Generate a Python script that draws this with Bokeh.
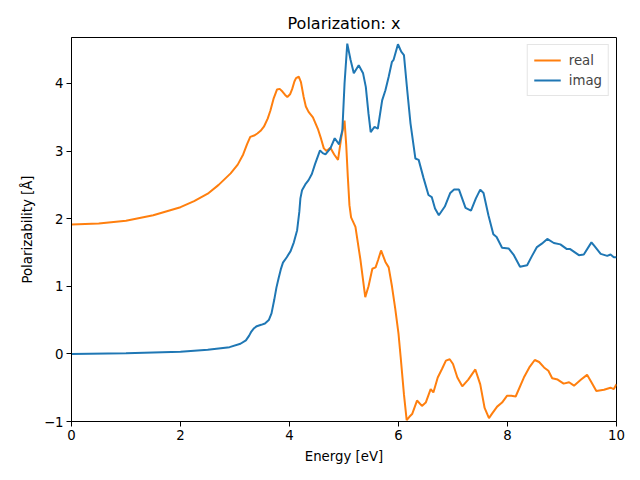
from bokeh.plotting import figure
from bokeh.embed import file_html
from bokeh.resources import INLINE
from bokeh.models import Range1d, CustomJSTickFormatter, FixedTicker, Legend, LegendItem

real_x = [0, 0.5, 1.0, 1.5, 2.0, 2.25, 2.5, 2.7, 2.92, 3.05, 3.15, 3.22, 3.28, 3.35, 3.41, 3.47, 3.53, 3.6, 3.65, 3.71, 3.77, 3.82, 3.87, 3.92, 3.96, 4.01, 4.05, 4.09, 4.12, 4.17, 4.21, 4.26, 4.3, 4.35, 4.43, 4.52, 4.58, 4.63, 4.68, 4.75, 4.82, 4.89, 4.95, 5.01, 5.04, 5.07, 5.10, 5.13, 5.21, 5.3, 5.39, 5.45, 5.52, 5.58, 5.63, 5.68, 5.76, 5.82, 5.88, 5.94, 6.0, 6.04, 6.1, 6.15, 6.2, 6.25, 6.34, 6.43, 6.5, 6.59, 6.64, 6.72, 6.80, 6.87, 6.94, 7.0, 7.08, 7.17, 7.28, 7.41, 7.5, 7.58, 7.66, 7.72, 7.81, 7.9, 7.99, 8.07, 8.15, 8.30, 8.4, 8.50, 8.58, 8.67, 8.75, 8.82, 8.92, 9.03, 9.13, 9.22, 9.35, 9.46, 9.54, 9.63, 9.77, 9.89, 9.95, 10.0]
real_y = [1.915, 1.93, 1.97, 2.05, 2.17, 2.26, 2.37, 2.5, 2.67, 2.8, 2.95, 3.1, 3.21, 3.23, 3.26, 3.3, 3.36, 3.48, 3.6, 3.78, 3.91, 3.92, 3.88, 3.83, 3.80, 3.84, 3.92, 4.03, 4.08, 4.10, 4.02, 3.80, 3.66, 3.58, 3.5, 3.33, 3.18, 3.04, 3.0, 3.05, 2.95, 2.87, 3.2, 3.45, 3.1, 2.62, 2.2, 2.02, 1.88, 1.4, 0.84, 1.0, 1.26, 1.28, 1.4, 1.53, 1.36, 1.28, 1.0, 0.67, 0.3, -0.05, -0.6, -0.98, -0.93, -0.89, -0.69, -0.77, -0.72, -0.52, -0.57, -0.35, -0.22, -0.1, -0.08, -0.15, -0.35, -0.48, -0.38, -0.23, -0.45, -0.8, -0.95, -0.88, -0.78, -0.72, -0.62, -0.62, -0.63, -0.35, -0.2, -0.09, -0.12, -0.2, -0.25, -0.36, -0.38, -0.44, -0.42, -0.47, -0.38, -0.31, -0.42, -0.55, -0.53, -0.50, -0.52, -0.45]

imag_x = [0, 1, 2, 2.5, 2.9, 3.1, 3.2, 3.26, 3.3, 3.35, 3.4, 3.48, 3.55, 3.62, 3.67, 3.72, 3.76, 3.8, 3.84, 3.88, 3.95, 4.02, 4.08, 4.14, 4.18, 4.2, 4.23, 4.3, 4.35, 4.41, 4.47, 4.56, 4.61, 4.66, 4.75, 4.83, 4.91, 4.97, 5.01, 5.06, 5.12, 5.18, 5.27, 5.35, 5.40, 5.45, 5.49, 5.56, 5.62, 5.70, 5.76, 5.82, 5.88, 5.91, 5.99, 6.05, 6.10, 6.16, 6.22, 6.31, 6.37, 6.46, 6.55, 6.61, 6.67, 6.74, 6.85, 6.95, 7.02, 7.11, 7.23, 7.33, 7.42, 7.50, 7.56, 7.65, 7.74, 7.8, 7.90, 8.02, 8.11, 8.23, 8.36, 8.45, 8.54, 8.63, 8.73, 8.85, 8.97, 9.09, 9.15, 9.31, 9.40, 9.54, 9.59, 9.71, 9.83, 9.89, 9.95, 10]
imag_y = [0, 0.01, 0.03, 0.06, 0.1, 0.15, 0.2, 0.27, 0.33, 0.38, 0.41, 0.43, 0.45, 0.5, 0.6, 0.8, 0.98, 1.12, 1.25, 1.35, 1.43, 1.52, 1.65, 1.83, 2.1, 2.3, 2.42, 2.52, 2.57, 2.66, 2.81, 3.01, 2.97, 2.95, 3.04, 3.19, 3.10, 3.31, 4.0, 4.59, 4.35, 4.15, 4.27, 4.15, 3.95, 3.55, 3.28, 3.36, 3.33, 3.75, 3.90, 4.1, 4.32, 4.35, 4.58, 4.47, 4.42, 3.90, 3.41, 2.89, 2.87, 2.6, 2.35, 2.32, 2.15, 2.05, 2.18, 2.38, 2.43, 2.43, 2.16, 2.12, 2.3, 2.43, 2.38, 2.05, 1.77, 1.73, 1.57, 1.56, 1.47, 1.29, 1.31, 1.45, 1.58, 1.63, 1.70, 1.64, 1.62, 1.55, 1.55, 1.46, 1.47, 1.65, 1.6, 1.48, 1.45, 1.47, 1.43, 1.43]

x_ticks = [0, 2, 4, 6, 8, 10]
y_ticks = [-1, 0, 1, 2, 3, 4]

FONT = "DejaVu Sans"

p = figure(width=632, height=472, output_backend="svg", toolbar_location=None,
           x_range=Range1d(0, 10), y_range=Range1d(-1, 4.68),
           min_border_left=71, min_border_right=16, min_border_top=37, min_border_bottom=51,
           title="Polarization: x")
p.title.align = "center"
p.title.text_font = FONT
p.title.text_font_size = "16px"
p.title.text_font_style = "normal"
p.title.text_color = "black"
p.title.offset = 0

r1 = p.line(real_x, real_y, line_color="#ff7f0e", line_width=2)
r2 = p.line(imag_x, imag_y, line_color="#1f77b4", line_width=2)

p.xgrid.visible = False
p.ygrid.visible = False
p.outline_line_color = "black"
p.outline_line_width = 1
p.outline_line_alpha = 1

fmt = CustomJSTickFormatter(code="return tick < 0 ? '\u2212' + (-tick) : tick.toString();")
for ax, ticks, label in ((p.xaxis[0], x_ticks, "Energy [eV]"), (p.yaxis[0], y_ticks, "Polarizability [Å]")):
    ax.ticker = FixedTicker(ticks=ticks)
    ax.formatter = fmt
    ax.axis_label = label
    ax.axis_label_text_font = FONT
    ax.axis_label_text_font_size = "13.3px"
    ax.axis_label_text_font_style = "normal"
    ax.axis_label_text_color = "black"
    ax.major_label_text_font = FONT
    ax.major_label_text_font_size = "13.3px"
    ax.major_label_text_color = "black"
    ax.axis_line_color = "black"
    ax.major_tick_line_color = "black"
    ax.major_tick_out = 5
    ax.major_tick_in = 0
    ax.minor_tick_line_color = None
    ax.major_label_standoff = 3
    ax.axis_label_standoff = 6

legend = Legend(items=[LegendItem(label="real", renderers=[r1]),
                       LegendItem(label="imag", renderers=[r2])],
                location="top_right")
legend.label_text_font = FONT
legend.label_text_font_size = "13.3px"
legend.border_line_color = "#cccccc"
legend.border_line_width = 1
legend.margin = 7
legend.padding = 6
legend.spacing = 2
legend.glyph_width = 27
legend.glyph_height = 18
legend.label_height = 18
legend.label_standoff = 8
legend.background_fill_alpha = 0.8
p.add_layout(legend)

open("out.html", "w").write(file_html(p, INLINE))
